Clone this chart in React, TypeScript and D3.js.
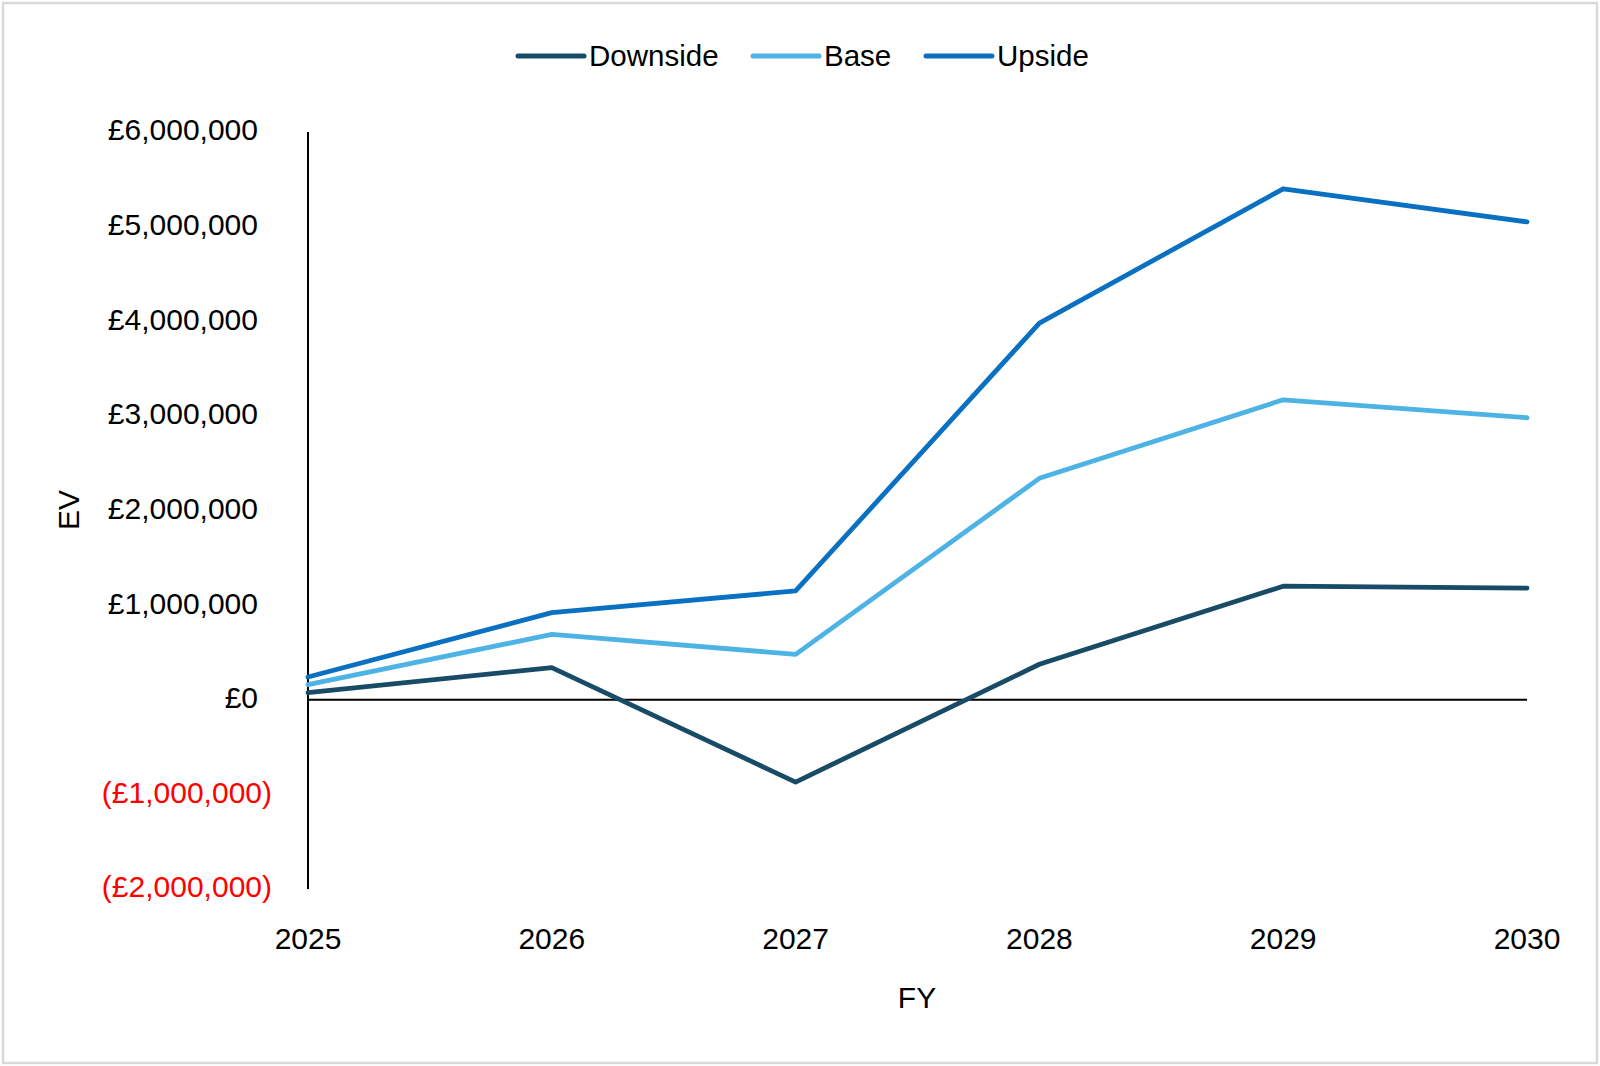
import * as d3 from 'd3';

const years = ['2025', '2026', '2027', '2028', '2029', '2030'];
const downside = [75000, 340000, -870000, 375000, 1200000, 1180000];
const base = [160000, 690000, 480000, 2340000, 3170000, 2980000];
const upside = [240000, 920000, 1150000, 3980000, 5400000, 5050000];
const yTicks = [6000000, 5000000, 4000000, 3000000, 2000000, 1000000, 0, -1000000, -2000000];

const series = [
  { name: 'Downside', values: downside, color: '#174B66' },
  { name: 'Base', values: base, color: '#4DB3E4' },
  { name: 'Upside', values: upside, color: '#0A70C2' },
];

const W = 1600;
const H = 1066;
const FONT = '"Liberation Sans", Arial, sans-serif';

export default function App() {
  const x = d3.scalePoint<string>().domain(years).range([308, 1527]);
  const y = d3.scaleLinear().domain([-2000000, 6000000]).range([889, 132]);

  const line = d3
    .line<number>()
    .x((_, i) => x(years[i])!)
    .y(d => y(d));

  const fmt = d3.format(',');
  const label = (v: number) => (v < 0 ? `(£${fmt(-v)})` : `£${fmt(v)}`);

  // legend line start for each item
  const legendPos = [518, 753, 926];

  return (
    <svg
      width={W}
      height={H}
      style={{ position: 'absolute', left: 0, top: 0, fontFamily: FONT }}
    >
      <rect x={0} y={0} width={W} height={H} fill="#fff" />
      <rect x={3} y={3} width={W - 6} height={H - 6} fill="none" stroke="#d9d9d9" strokeWidth={2.5} />

      {/* legend */}
      {series.map((s, i) => (
        <g key={s.name} transform={`translate(${legendPos[i]},56)`}>
          <line x1={0} x2={66} y1={0} y2={0} stroke={s.color} strokeWidth={5} strokeLinecap="round" />
          <text x={71} y={10} fontSize={29.5} fill="#000">
            {s.name}
          </text>
        </g>
      ))}

      {/* y tick labels */}
      {yTicks.map(t => (
        <text
          key={t}
          x={272}
          y={y(t)}
          dy="0.28em"
          dx={t < 0 ? 0 : -14}
          textAnchor="end"
          fontSize={30}
          fill={t < 0 ? '#ff0000' : '#000'}
        >
          {label(t)}
        </text>
      ))}

      {/* x tick labels */}
      {years.map(yr => (
        <text key={yr} x={x(yr)} y={949} textAnchor="middle" fontSize={30} fill="#000">
          {yr}
        </text>
      ))}

      {/* axes */}
      <line x1={308} x2={308} y1={y(6000000)} y2={y(-2000000)} stroke="#000" strokeWidth={2} />
      <line x1={x('2025')} x2={x('2030')} y1={y(0)} y2={y(0)} stroke="#000" strokeWidth={2} />

      {/* series */}
      {series.map(s => (
        <path
          key={s.name}
          d={line(s.values) ?? ''}
          fill="none"
          stroke={s.color}
          strokeWidth={4.8}
          strokeLinejoin="round"
          strokeLinecap="round"
        />
      ))}

      {/* axis titles */}
      <text x={917} y={1008} textAnchor="middle" fontSize={30} fill="#000">
        FY
      </text>
      <text
        transform={`translate(79,510) rotate(-90)`}
        textAnchor="middle"
        fontSize={30}
        fill="#000"
      >
        EV
      </text>
    </svg>
  );
}
